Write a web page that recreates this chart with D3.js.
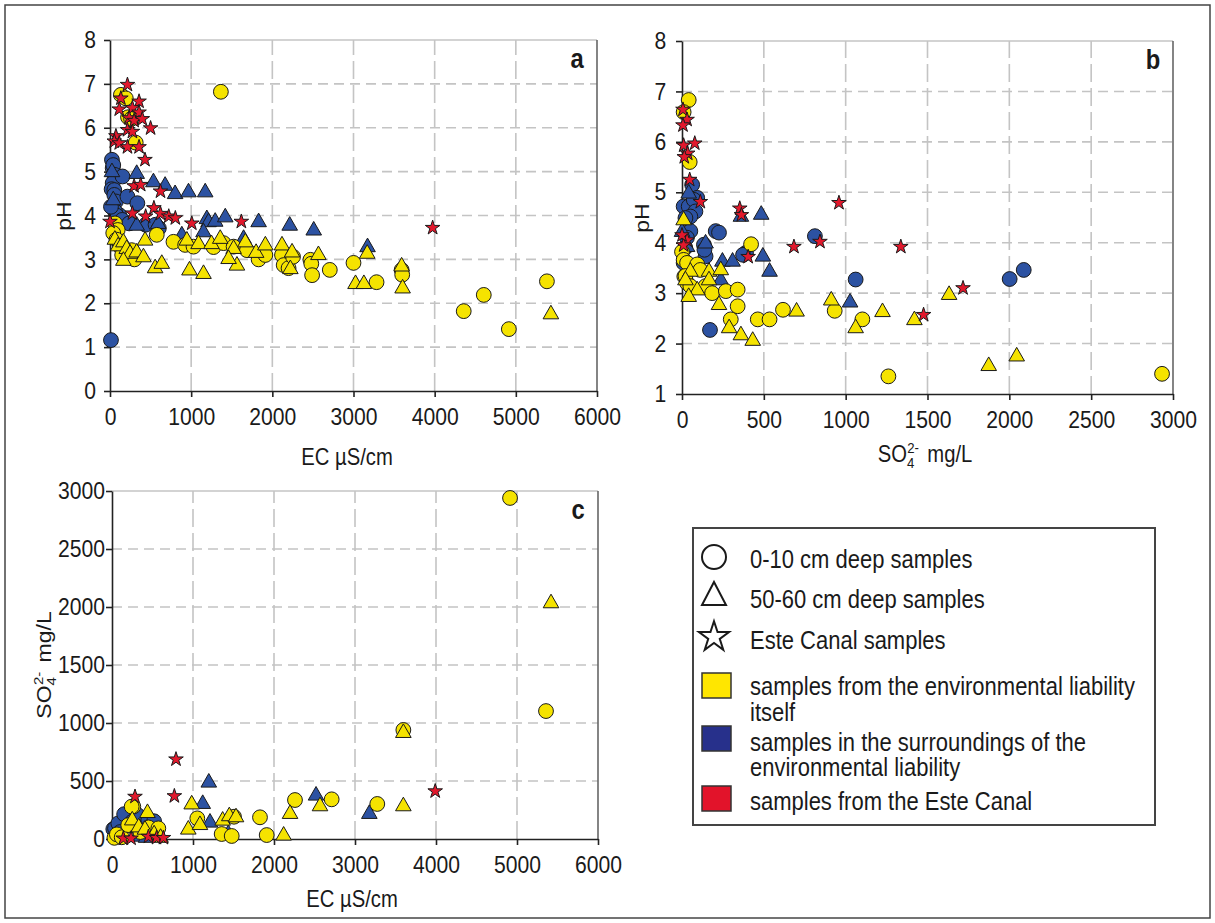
<!doctype html>
<html lang="en">
<head>
<meta charset="utf-8"/>
<title>pH, EC and sulphate</title>
<style>
  body { margin: 0; background: #fff; }
  svg { display: block; }
</style>
</head>
<body>
<script src="https://d3js.org/d3.v7.min.js"></script>
<script>
// ---- data ----
// panel a: EC (uS/cm) vs pH
const aYellowCircles = [[62,3.82],[95,3.67],[134,6.75],[195,6.67],[222,6.24],[260,6.2],[317,5.66],[267,3.21],[300,3.0],
  [40,3.6],[80,3.45],[120,3.3],[150,3.1],[576,3.56],[782,3.4],[926,3.33],[1029,3.29],[1276,3.28],[1366,6.82],[1399,3.37],
  [1523,3.29],[1687,3.21],[1831,3.0],[1914,3.1],[2119,3.1],[2140,2.87],[2200,2.8],[2255,3.06],[2469,2.99],[2480,2.9],
  [2490,2.64],[2708,2.76],[3000,2.92],[3284,2.48],[3593,2.76],[3600,2.65],[4358,1.82],[4605,2.19],[4914,1.41],[5383,2.5]];
const aYellowTriangles = [[60,3.5],[100,3.35],[165,3.44],[206,3.29],[247,3.18],[165,3.02],[329,3.21],[412,3.1],[556,2.85],
  [638,2.95],[432,3.48],[947,3.48],[1091,3.4],[1250,3.4],[1358,3.52],[1523,3.29],[1667,3.44],[1564,2.91],[1461,3.06],
  [1800,3.2],[1914,3.37],[2119,3.37],[2243,3.21],[2568,3.15],[979,2.8],[1152,2.72],[2222,2.83],[3025,2.49],[3128,2.49],
  [3169,3.18],[3593,2.89],[3605,2.39],[5432,1.8]];
const aBlueCircles = [[24,5.27],[33,5.08],[40,5.15],[53,4.93],[33,4.74],[20,4.6],[53,4.58],[53,4.47],[73,4.32],[154,4.89],
  [215,4.43],[337,4.28],[114,4.01],[60,4.1],[80,4.0],[150,3.9],[236,3.82],[439,3.79],[561,3.79],[602,3.71],[12,4.2],[12,1.16]];
const aBlueTriangles = [[24,5.04],[40,4.4],[329,5.0],[535,4.81],[679,4.73],[802,4.54],[967,4.58],[1173,4.58],[1193,3.97],
  [1214,3.9],[1296,3.91],[1420,4.01],[1831,3.9],[2214,3.82],[2510,3.71],[329,3.82],[593,3.86],[885,3.6],[1152,3.67],
  [1646,3.52],[3173,3.33]];
const aStars = [[215,6.98],[134,6.67],[358,6.6],[114,6.42],[276,6.45],[358,6.35],[236,6.22],[297,6.16],[398,6.2],[500,5.99],
  [215,5.95],[276,5.91],[73,5.81],[53,5.69],[114,5.65],[215,5.56],[358,5.56],[431,5.27],[297,4.67],[378,4.7],[622,4.55],
  [541,4.17],[276,4.05],[439,3.98],[622,4.04],[724,3.98],[805,3.94],[0,3.86],[1008,3.82],[1618,3.86],[3975,3.72]];

// panel b: SO4 (mg/L) vs pH
const bYellowCircles = [[41,6.83],[10,6.59],[47,5.6],[0,3.82],[10,3.66],[14,3.33],[31,3.2],[92,3.52],[31,3.6],[93,3.57],
  [21,3.34],[51,3.14],[112,3.46],[144,3.14],[184,3.0],[268,3.04],[340,3.07],[340,2.74],[298,2.48],[422,3.97],[463,2.48],
  [535,2.48],[617,2.67],[933,2.65],[1102,2.48],[1261,1.35],[2933,1.4]];
const bYellowTriangles = [[10,4.49],[51,3.47],[165,3.47],[237,3.5],[165,3.3],[21,3.3],[93,3.1],[41,2.97],[226,2.81],
  [288,2.35],[360,2.21],[432,2.1],[700,2.68],[912,2.9],[1061,2.35],[1225,2.67],[1420,2.51],[1632,3.01],[1874,1.6],[2045,1.79]];
const bBlueCircles = [[62,5.15],[10,4.72],[41,4.72],[93,4.89],[72,4.85],[82,4.62],[51,4.52],[21,4.49],[51,4.23],[30,4.1],
  [20,3.9],[134,3.96],[144,3.73],[137,3.86],[10,3.6],[206,4.23],[226,4.2],[391,3.8],[373,3.76],[171,2.27],[812,4.13],
  [1061,3.27],[2002,3.28],[2088,3.46]];
const bBlueTriangles = [[41,5.02],[0,4.26],[360,4.56],[484,4.6],[144,4.03],[247,3.67],[309,3.67],[494,3.77],[535,3.47],
  [31,3.96],[237,3.3],[1027,2.86]];
const bStars = [[6,6.64],[31,6.44],[6,6.33],[10,5.93],[78,5.97],[35,5.77],[14,5.7],[47,5.25],[112,4.81],[353,4.68],
  [363,4.55],[959,4.79],[843,4.02],[684,3.92],[404,3.72],[1337,3.92],[1476,2.57],[1717,3.1],[31,4.05],[10,3.95],[0,4.15]];

// panel c: EC (uS/cm) vs SO4 (mg/L)
const cYellowCircles = [[30,10],[60,40],[120,15],[200,120],[263,279],[243,279],[350,60],[450,100],[572,92],[1053,178],
  [1354,43],[1478,26],[1506,192],[1827,187],[1910,34],[2259,336],[2712,342],[3275,302],[3597,940],[4914,2940],[5358,1103]];
const cYellowTriangles = [[250,180],[330,120],[407,100],[438,244],[520,60],[600,30],[984,318],[942,101],[1086,140],
  [1366,178],[1448,216],[1531,207],[2119,49],[2198,236],[2568,302],[3597,302],[3597,934],[5420,2052]];
const cBlueCircles = [[16,85],[37,92],[78,135],[100,60],[150,214],[250,150],[315,207],[380,100],[448,164],[520,153]];
const cBlueTriangles = [[300,110],[325,40],[420,30],[1195,506],[1120,322],[1210,161],[1436,63],[2519,394],[3177,236]];
const cStars = [[140,5],[235,5],[284,365],[450,20],[550,10],[635,10],[770,370],[790,687],[3990,412]];

// axis ticks
const ecTicks = [0,1000,2000,3000,4000,5000,6000];
const so4XTicks = [0,500,1000,1500,2000,2500,3000];
const phTicksA = [0,1,2,3,4,5,6,7,8];
const phTicksB = [1,2,3,4,5,6,7,8];
const so4YTicks = [0,500,1000,1500,2000,2500,3000];

// legend
const shapeLegend = ["0-10 cm deep samples", "50-60 cm deep samples", "Este Canal samples"];
const colourLegend = [["samples from the environmental liability", "itself"],
                      ["samples in the surroundings of the", "environmental liability"],
                      ["samples from the Este Canal"]];

// ---- drawing ----
const W = 1215, H = 923;
const FONT = "'Liberation Sans', Arial, sans-serif";
const SX = 0.88; // the figure's type is a little narrow
const YELLOW = "#f5e300", BLUE = "#2c52a2", RED = "#e2182c";

const svg = d3.select("body").append("svg")
    .attr("width", W).attr("height", H)
    .attr("viewBox", [0, 0, W, H])
    .style("font-family", FONT);

svg.append("rect").attr("width", W).attr("height", H).attr("fill", "#fff");
svg.append("rect").attr("x", 5).attr("y", 5).attr("width", 1205).attr("height", 913)
    .attr("fill", "none").attr("stroke", "#444").attr("stroke-width", 1.5);

function label(g, x, y, str, size, anchor, weight) {
    return g.append("text")
        .attr("transform", `translate(${x},${y}) scale(${SX},1)`)
        .attr("font-size", size)
        .attr("font-weight", weight || "normal")
        .attr("text-anchor", anchor || "middle")
        .attr("fill", "#1a1a1a")
        .text(str);
}

// SO4 2- with stacked sub/superscript
function so4Label(t) {
    t.append("tspan").text("SO");
    t.append("tspan").attr("font-size", 15).attr("dy", 6).text("4");
    t.append("tspan").attr("font-size", 15).attr("dx", -8).attr("dy", -15).text("2-");
    t.append("tspan").attr("dy", 9).attr("dx", 3).text(" mg/L");
}

const triPath = "M0,-6.8L7.8,6.8L-7.8,6.8Z";
const starPath = d3.symbol(d3.symbolStar, 66)();

function marks(g, x, y, data, shape, fill) {
    const sel = g.append("g").selectAll("path").data(data).join("path")
        .attr("transform", d => `translate(${x(d[0])},${y(d[1])})`)
        .attr("fill", fill)
        .attr("stroke", "#1a1a1a")
        .attr("stroke-width", 1);
    if (shape === "circle") sel.attr("d", d3.symbol(d3.symbolCircle, Math.PI * 7.4 * 7.4)());
    else if (shape === "triangle") sel.attr("d", triPath);
    else sel.attr("d", starPath);
}

function panel(cfg) {
    const x = d3.scaleLinear().domain(cfg.xd).range([cfg.x0, cfg.x1]);
    const y = d3.scaleLinear().domain(cfg.yd).range([cfg.y0, cfg.y1]);
    const g = svg.append("g");

    // grid
    g.append("g").selectAll("line").data(cfg.yt.slice(1, -1)).join("line")
        .attr("x1", cfg.x0).attr("x2", cfg.x1)
        .attr("y1", d => y(d)).attr("y2", d => y(d))
        .attr("stroke", "#c4c4c4").attr("stroke-width", 1.6).attr("stroke-dasharray", "10,6");
    g.append("g").selectAll("line").data(cfg.xt.slice(1, -1)).join("line")
        .attr("x1", d => x(d)).attr("x2", d => x(d))
        .attr("y1", cfg.y0).attr("y2", cfg.y1)
        .attr("stroke", "#c4c4c4").attr("stroke-width", 1.6).attr("stroke-dasharray", "18,6");
    g.append("line").attr("x1", cfg.x0).attr("x2", cfg.x1).attr("y1", cfg.y1).attr("y2", cfg.y1)
        .attr("stroke", "#c4c4c4").attr("stroke-width", 1.6);
    g.append("line").attr("x1", cfg.x1).attr("x2", cfg.x1).attr("y1", cfg.y1).attr("y2", cfg.y0)
        .attr("stroke", "#666").attr("stroke-width", 1.6);

    // axes
    const fmt = d3.format("d");
    const ax = g.append("g").attr("transform", `translate(0,${cfg.y0})`)
        .call(d3.axisBottom(x).tickValues(cfg.xt).tickFormat(fmt).tickSize(6).tickSizeOuter(0).tickPadding(11));
    const ay = g.append("g").attr("transform", `translate(${cfg.x0},0)`)
        .call(d3.axisLeft(y).tickValues(cfg.yt).tickFormat(fmt).tickSize(6).tickSizeOuter(0).tickPadding(cfg.ypad));
    [ax, ay].forEach(a => {
        a.select(".domain").attr("stroke", "#222").attr("stroke-width", 1.6);
        a.selectAll(".tick line").attr("stroke", "#222").attr("stroke-width", 1.6);
        a.selectAll(".tick text").attr("font-size", 24).attr("font-family", FONT).attr("fill", "#1a1a1a")
            .attr("transform", `scale(${SX},1)`);
    });

    // marks
    marks(g, x, y, cfg.bc, "circle", BLUE);
    marks(g, x, y, cfg.bt, "triangle", BLUE);
    marks(g, x, y, cfg.yc, "circle", YELLOW);
    marks(g, x, y, cfg.ytr, "triangle", YELLOW);
    marks(g, x, y, cfg.st, "star", RED);

    label(g, cfg.x1 - 20, cfg.y1 + 28, cfg.letter, 27, "middle", "bold");
    return g;
}

panel({x0: 110, x1: 597, y0: 391, y1: 40, xd: [0, 6000], yd: [0, 8], xt: ecTicks, yt: phTicksA, ypad: 10,
       yc: aYellowCircles, ytr: aYellowTriangles, bc: aBlueCircles, bt: aBlueTriangles, st: aStars, letter: "a"});
panel({x0: 682, x1: 1173, y0: 394, y1: 41, xd: [0, 3000], yd: [1, 8], xt: so4XTicks, yt: phTicksB, ypad: 12,
       yc: bYellowCircles, ytr: bYellowTriangles, bc: bBlueCircles, bt: bBlueTriangles, st: bStars, letter: "b"});
panel({x0: 112, x1: 598, y0: 839, y1: 491, xd: [0, 6000], yd: [0, 3000], xt: ecTicks, yt: so4YTicks, ypad: 2,
       yc: cYellowCircles, ytr: cYellowTriangles, bc: cBlueCircles, bt: cBlueTriangles, st: cStars, letter: "c"});

// axis titles
label(svg, 347, 465, "EC µS/cm", 23);
label(svg, 352, 907, "EC µS/cm", 23);
so4Label(label(svg, 925, 462, "", 23).text(null));
svg.append("text").attr("transform", "translate(71,216) rotate(-90) scale(1,0.9)")
    .attr("font-size", 23).attr("text-anchor", "middle").attr("fill", "#1a1a1a").text("pH");
svg.append("text").attr("transform", "translate(649,218) rotate(-90) scale(1,0.9)")
    .attr("font-size", 23).attr("text-anchor", "middle").attr("fill", "#1a1a1a").text("pH");
so4Label(svg.append("text").attr("transform", "translate(51,665) rotate(-90) scale(1,0.9)")
    .attr("font-size", 23).attr("text-anchor", "middle").attr("fill", "#1a1a1a"));

// legend
const lg = svg.append("g");
lg.append("rect").attr("x", 693).attr("y", 528).attr("width", 462).attr("height", 297)
    .attr("fill", "#fff").attr("stroke", "#444").attr("stroke-width", 2);
const shapeY = [557, 594, 636];
const shapeBase = [568, 608, 649];
lg.append("circle").attr("cx", 714).attr("cy", shapeY[0]).attr("r", 12)
    .attr("fill", "none").attr("stroke", "#1a1a1a").attr("stroke-width", 2);
lg.append("path").attr("d", "M714,582L726,605L702,605Z")
    .attr("fill", "none").attr("stroke", "#1a1a1a").attr("stroke-width", 2);
lg.append("path").attr("d", d3.symbol(d3.symbolStar, 280)())
    .attr("transform", `translate(714,${shapeY[2] + 1})`)
    .attr("fill", "none").attr("stroke", "#1a1a1a").attr("stroke-width", 2);
shapeLegend.forEach((s, i) => label(lg, 750, shapeBase[i], s, 25, "start"));

const swatchTop = [673, 726, 786];
const swatchFill = ["#ffe600", "#27308b", "#e2132a"];
const textBase = [[695, 721], [751, 776], [810]];
colourLegend.forEach((lines, i) => {
    lg.append("rect").attr("x", 702).attr("y", swatchTop[i]).attr("width", 29).attr("height", 25)
        .attr("fill", swatchFill[i]).attr("stroke", "#333").attr("stroke-width", 1.5);
    lines.forEach((s, j) => label(lg, 750, textBase[i][j], s, 25, "start"));
});
</script>
</body>
</html>
